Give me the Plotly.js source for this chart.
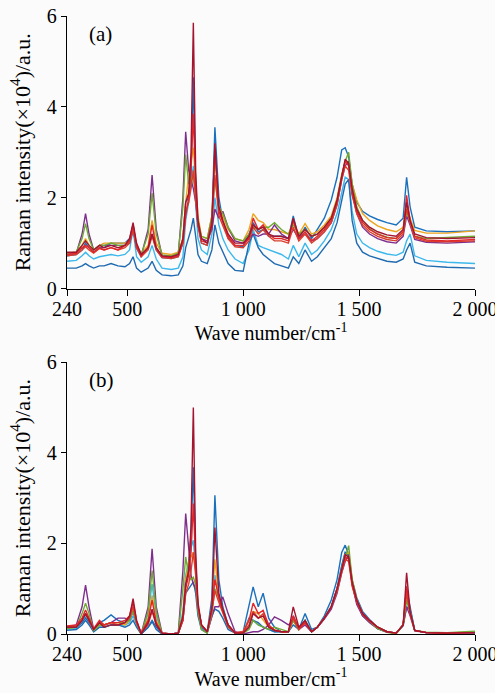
<!DOCTYPE html>
<html>
<head>
<meta charset="utf-8">
<script src="https://cdn.plot.ly/plotly-3.0.1.min.js"></script>
<style>html,body{margin:0;padding:0;background:#fbfbfb;overflow:hidden;}#chart{width:495px;height:693px;}</style>
</head>
<body>
<div id="chart"></div>
<script>
// Wave numbers (cm^-1)
const waveNumbers = [240,280,305,320,335,355,380,400,430,460, 490,510,525,540,560,590,607,625,650,690, 720,740,752,765,775,785,795,805,820,845, 865,878,895,912,935,965,1000,1025,1043,1065, 1086,1110,1135,1165,1195,1216,1240,1267,1295,1320, 1350,1380,1405,1425,1440,1455,1470,1490,1515,1545, 1580,1620,1660,1690,1705,1720,1740,1790,1880,2000];

const tickValues = [240, 500, 1000, 1500, 2000];
const tickLabels = ["240", "500", "1 000", "1 500", "2 000"];
const yTickValues = [0, 2, 4, 6];

// Panel (a): raw spectra (×10^4)
const aLightBlue = [0.6,0.62,0.72,0.8,0.72,0.65,0.7,0.72,0.75,0.72, 0.75,0.85,1.3,0.7,0.58,0.7,0.95,0.65,0.45,0.42, 0.45,0.7,1.5,1.9,2.3,2.7,1.9,1.1,0.85,0.75, 1.2,2.0,1.4,1.1,0.85,0.65,0.55,0.85,1.3,0.95, 0.9,0.85,0.8,0.75,0.65,0.95,0.7,1.0,0.75,0.85, 1.05,1.3,1.65,2.1,2.45,2.4,1.7,1.2,1.0,0.9, 0.82,0.76,0.73,0.8,1.05,1.2,0.72,0.62,0.58,0.55];
const aBlueLow = [0.45,0.45,0.5,0.55,0.5,0.45,0.5,0.5,0.55,0.5, 0.48,0.55,0.7,0.45,0.36,0.45,0.6,0.4,0.3,0.28, 0.3,0.5,0.9,1.1,1.3,1.55,1.1,0.75,0.6,0.55, 0.85,1.4,1.0,0.8,0.55,0.4,0.38,1.0,1.2,0.9, 0.75,0.65,0.55,0.5,0.45,0.7,0.55,0.85,0.6,0.7, 0.9,1.1,1.45,1.9,2.3,2.4,1.5,1.0,0.8,0.72, 0.66,0.6,0.58,0.65,0.85,1.0,0.58,0.5,0.47,0.45];
const aBlue = [0.72,0.75,0.85,1.0,0.9,0.8,0.9,0.9,1.0,1.0, 1.0,1.1,1.4,0.9,0.7,0.9,1.2,0.85,0.68,0.66, 0.7,1.1,1.9,2.0,2.5,4.65,2.2,1.4,1.0,0.95, 1.5,3.55,2.0,1.5,1.1,0.95,0.92,1.2,1.45,1.25, 1.3,1.15,1.15,1.15,1.1,1.6,1.1,1.35,1.1,1.3, 1.55,1.95,2.45,3.05,3.1,2.9,2.3,1.9,1.7,1.6, 1.52,1.45,1.4,1.55,2.45,1.8,1.35,1.27,1.25,1.27];
const aOrange = [0.78,0.8,0.95,1.1,0.95,0.85,0.95,1.0,1.0,1.0, 1.0,1.05,1.35,0.95,0.78,0.95,1.5,1.0,0.78,0.75, 0.8,1.1,1.9,2.5,2.8,3.1,2.3,1.6,1.15,1.1, 1.6,2.9,1.8,1.6,1.3,1.1,1.05,1.3,1.65,1.5, 1.45,1.3,1.3,1.25,1.2,1.45,1.2,1.43,1.2,1.25, 1.4,1.6,2.0,2.5,2.8,2.8,2.3,1.95,1.65,1.5, 1.38,1.3,1.25,1.35,1.8,1.55,1.28,1.22,1.22,1.27];
const aPurple = [0.75,0.78,1.2,1.65,1.2,0.85,0.95,0.95,0.95,0.95, 0.95,1.0,1.3,0.9,0.72,1.3,2.5,1.3,0.72,0.7, 0.75,2.0,3.45,2.6,2.4,2.2,1.9,1.4,1.1,1.05, 1.3,1.75,1.55,1.7,1.35,1.05,1.0,1.1,1.2,1.15, 1.2,1.2,1.4,1.2,1.1,1.3,1.1,1.2,1.05,1.1, 1.25,1.45,1.85,2.4,2.7,2.8,2.1,1.65,1.35,1.2, 1.1,1.03,1.0,1.15,1.6,1.4,1.08,1.02,1.0,1.03];
const aGreen = [0.78,0.8,1.1,1.43,1.1,0.85,0.95,0.95,1.0,0.95, 0.95,1.05,1.35,0.92,0.74,1.2,2.1,1.2,0.74,0.72, 0.78,1.8,2.95,2.3,2.4,2.5,2.0,1.5,1.15,1.1, 1.6,2.4,1.8,1.65,1.35,1.1,1.05,1.2,1.35,1.3, 1.35,1.35,1.45,1.3,1.2,1.4,1.2,1.3,1.15,1.2, 1.35,1.55,1.95,2.5,2.8,3.0,2.3,1.8,1.5,1.32, 1.2,1.13,1.1,1.25,1.7,1.45,1.15,1.1,1.12,1.15];
const aRed2 = [0.72,0.75,0.85,0.92,0.85,0.78,0.88,0.85,0.9,0.85, 0.9,1.0,1.3,0.9,0.7,0.85,1.15,0.85,0.68,0.66, 0.7,1.0,1.7,1.9,2.2,2.6,2.0,1.4,1.0,0.95, 1.4,2.5,1.6,1.4,1.1,0.92,0.9,1.05,1.35,1.2, 1.3,1.15,1.05,1.05,1.0,1.35,1.05,1.2,1.0,1.1, 1.25,1.45,1.85,2.4,2.7,2.6,2.05,1.65,1.4,1.25, 1.15,1.08,1.05,1.2,1.75,1.45,1.12,1.04,1.03,1.05];
const aRed = [0.75,0.78,0.9,0.95,0.9,0.8,0.9,0.85,0.9,0.85, 0.95,1.05,1.4,0.95,0.72,0.9,1.4,0.9,0.7,0.68, 0.72,1.0,1.6,2.0,2.6,3.85,2.2,1.4,1.05,1.0, 1.5,3.05,1.7,1.45,1.15,0.95,0.95,1.1,1.55,1.3, 1.4,1.2,1.1,1.1,1.05,1.5,1.1,1.25,1.05,1.15, 1.3,1.5,1.9,2.45,2.8,2.7,2.1,1.7,1.45,1.3, 1.2,1.12,1.1,1.25,2.05,1.5,1.15,1.07,1.05,1.08];
const aDarkRed = [0.8,0.8,0.95,1.05,0.95,0.85,0.95,0.9,0.95,0.9, 0.95,1.1,1.45,1.0,0.75,0.9,1.2,0.9,0.72,0.7, 0.75,1.1,1.9,2.1,3.0,5.85,2.6,1.5,1.1,1.0, 1.4,3.2,1.8,1.5,1.2,1.0,1.0,1.15,1.4,1.3, 1.35,1.2,1.15,1.15,1.1,1.55,1.15,1.3,1.15,1.2, 1.35,1.55,1.95,2.5,2.85,2.75,2.2,1.75,1.5,1.35, 1.25,1.18,1.15,1.3,1.9,1.5,1.2,1.12,1.1,1.12];

// Panel (b): baseline-corrected spectra (×10^4)
const bLightBlue = [0.1,0.12,0.25,0.4,0.25,0.05,0.15,0.15,0.2,0.2, 0.2,0.25,0.4,0.2,0.0,0.45,1.1,0.4,0.0,0.0, 0.02,0.5,1.3,1.6,1.9,2.07,1.4,0.5,0.15,0.03, 0.55,1.3,0.8,0.5,0.15,0.02,0.02,0.15,0.3,0.2, 0.15,0.1,0.05,0.05,0.05,0.3,0.1,0.25,0.05,0.15, 0.35,0.6,1.0,1.5,1.8,1.75,1.15,0.7,0.42,0.28, 0.12,0.05,0.02,0.2,0.8,0.5,0.08,0.03,0.02,0.03];
const bBlueLow = [0.08,0.1,0.2,0.3,0.2,0.05,0.15,0.15,0.2,0.2, 0.15,0.2,0.3,0.15,0.0,0.15,0.27,0.1,0.0,0.0, 0.02,0.3,0.9,1.0,1.1,1.15,0.9,0.4,0.1,0.02, 0.4,0.55,0.5,0.35,0.1,0.02,0.02,0.35,0.3,0.25, 0.15,0.1,0.05,0.05,0.05,0.2,0.1,0.3,0.05,0.15, 0.35,0.6,1.0,1.5,1.8,1.75,1.1,0.7,0.4,0.27, 0.12,0.05,0.02,0.18,0.6,0.55,0.08,0.03,0.02,0.03];
const bBlue = [0.15,0.15,0.25,0.35,0.25,0.1,0.25,0.3,0.42,0.3, 0.25,0.35,0.6,0.25,0.0,0.15,0.3,0.15,0.0,0.0, 0.02,0.35,1.2,1.5,2.2,3.68,1.6,0.6,0.15,0.05, 0.8,3.06,1.2,0.6,0.2,0.02,0.05,0.6,1.04,0.6, 0.9,0.35,0.15,0.05,0.05,0.4,0.1,0.45,0.1,0.15, 0.4,0.75,1.2,1.8,1.96,1.75,1.2,0.8,0.5,0.32, 0.15,0.05,0.02,0.2,1.0,0.6,0.08,0.03,0.02,0.02];
const bOrange = [0.12,0.15,0.3,0.45,0.3,0.08,0.2,0.2,0.25,0.25, 0.2,0.3,0.55,0.25,0.0,0.35,0.85,0.3,0.02,0.0, 0.02,0.4,1.2,1.6,1.7,1.8,1.4,0.6,0.2,0.05, 0.6,1.65,0.8,0.5,0.2,0.02,0.05,0.3,0.5,0.45, 0.3,0.15,0.1,0.05,0.05,0.3,0.1,0.25,0.05,0.15, 0.35,0.6,1.0,1.45,1.75,1.8,1.2,0.75,0.45,0.3, 0.15,0.05,0.02,0.2,0.9,0.5,0.08,0.03,0.02,0.05];
const bPurple = [0.15,0.2,0.6,1.08,0.6,0.1,0.25,0.2,0.25,0.35, 0.35,0.3,0.5,0.25,0.0,0.6,1.88,0.6,0.02,0.0, 0.02,1.4,2.66,1.8,1.3,1.1,1.0,0.6,0.2,0.05, 0.4,0.6,0.6,0.82,0.45,0.05,0.0,0.02,0.05,0.05, 0.1,0.2,0.38,0.3,0.2,0.3,0.1,0.2,0.05,0.15, 0.33,0.55,0.9,1.35,1.6,1.75,1.1,0.65,0.4,0.25, 0.12,0.04,0.02,0.2,0.6,0.4,0.07,0.03,0.02,0.03];
const bGreen = [0.12,0.15,0.45,0.68,0.45,0.08,0.2,0.2,0.25,0.25, 0.25,0.3,0.5,0.25,0.0,0.5,1.4,0.5,0.0,0.0, 0.0,1.0,1.7,1.3,1.2,1.25,1.1,0.5,0.1,0.02, 0.45,1.0,0.8,0.55,0.2,0.02,0.02,0.1,0.3,0.2, 0.15,0.1,0.15,0.1,0.05,0.3,0.1,0.3,0.05,0.15, 0.35,0.6,0.95,1.4,1.7,1.95,1.2,0.75,0.45,0.28, 0.12,0.04,0.0,0.2,0.75,0.45,0.08,0.04,0.03,0.06];
const bRed2 = [0.15,0.18,0.3,0.45,0.3,0.1,0.25,0.2,0.25,0.2, 0.25,0.35,0.6,0.25,0.02,0.2,0.5,0.2,0.02,0.0, 0.02,0.3,0.9,1.1,1.4,1.8,1.3,0.6,0.2,0.05, 0.5,0.95,0.7,0.45,0.15,0.02,0.03,0.2,0.5,0.35, 0.45,0.2,0.08,0.05,0.05,0.35,0.1,0.25,0.05,0.15, 0.35,0.6,0.95,1.35,1.65,1.6,1.05,0.7,0.43,0.28, 0.15,0.05,0.02,0.2,0.9,0.45,0.08,0.03,0.02,0.03];
const bRed = [0.18,0.2,0.35,0.53,0.35,0.12,0.3,0.2,0.25,0.25, 0.3,0.4,0.7,0.3,0.02,0.3,0.75,0.25,0.02,0.0, 0.02,0.3,1.0,1.3,1.8,2.88,1.5,0.6,0.2,0.05, 0.55,1.2,0.8,0.5,0.2,0.03,0.05,0.3,0.68,0.45, 0.52,0.2,0.08,0.05,0.05,0.4,0.12,0.25,0.05,0.15, 0.35,0.6,1.0,1.4,1.7,1.65,1.1,0.72,0.45,0.3, 0.15,0.05,0.02,0.2,1.05,0.45,0.08,0.03,0.02,0.03];
const bDarkRed = [0.15,0.15,0.3,0.45,0.3,0.1,0.25,0.15,0.2,0.2, 0.25,0.4,0.78,0.3,0.0,0.25,0.55,0.2,0.02,0.0, 0.02,0.4,1.1,1.4,2.4,5.0,1.8,0.7,0.2,0.05, 0.6,2.35,0.9,0.55,0.2,0.02,0.02,0.15,0.45,0.35, 0.4,0.15,0.08,0.05,0.05,0.6,0.15,0.3,0.05,0.15, 0.35,0.6,1.0,1.45,1.75,1.7,1.15,0.75,0.45,0.3, 0.15,0.05,0.02,0.2,1.35,0.5,0.08,0.03,0.02,0.03];

const seriesColors = {
  lightBlue: "#3cb8ec", blueLow: "#1f6ab0", blue: "#1a70bd", orange: "#eda41e",
  purple: "#7e2f8e", green: "#6fa832", red2: "#d8402c", red: "#e3262a", darkRed: "#a2142f"
};

const panelA = [
  ["lightBlue", aLightBlue], ["blueLow", aBlueLow], ["blue", aBlue], ["orange", aOrange],
  ["purple", aPurple], ["green", aGreen], ["red2", aRed2], ["red", aRed], ["darkRed", aDarkRed]
];
const panelB = [
  ["lightBlue", bLightBlue], ["blueLow", bBlueLow], ["blue", bBlue], ["orange", bOrange],
  ["purple", bPurple], ["green", bGreen], ["red2", bRed2], ["red", bRed], ["darkRed", bDarkRed]
];

const traces = [];
panelA.forEach(([name, ys]) => traces.push({
  x: waveNumbers, y: ys, type: "scatter", mode: "lines", name: name,
  line: {color: seriesColors[name], width: 1.4}, xaxis: "x", yaxis: "y", showlegend: false
}));
panelB.forEach(([name, ys]) => traces.push({
  x: waveNumbers, y: ys, type: "scatter", mode: "lines", name: name,
  line: {color: seriesColors[name], width: 1.4}, xaxis: "x2", yaxis: "y2", showlegend: false
}));

const fontFam = "Liberation Serif, Times New Roman, serif";
const xAxisBase = {
  range: [240, 2000], tickvals: tickValues, ticktext: tickLabels, ticklabeloverflow: "allow",
  ticklabelstandoff: -4,
  showline: true, linecolor: "#000", linewidth: 1.3, ticks: "outside", ticklen: 6, tickcolor: "#000",
  showgrid: false, zeroline: false, tickfont: {family: fontFam, size: 20, color: "#000"},
  title: {text: "Wave number/cm<sup>-1</sup>", font: {family: fontFam, size: 20, color: "#000"}, standoff: 6}
};
const yAxisBase = {
  range: [0, 6], tickvals: yTickValues,
  showline: true, linecolor: "#000", linewidth: 1.3, ticks: "outside", ticklen: 5, tickcolor: "#000",
  showgrid: false, zeroline: false, tickfont: {family: fontFam, size: 20, color: "#000"},
  title: {text: "Raman intensity(×10<sup>4</sup>)/a.u.", font: {family: fontFam, size: 22, color: "#000"}, standoff: 10}
};

const layout = {
  width: 495, height: 693,
  margin: {l: 67, r: 20, t: 16, b: 59},
  paper_bgcolor: "#fbfbfb", plot_bgcolor: "#fbfbfb",
  showlegend: false,
  xaxis: Object.assign({}, xAxisBase, {anchor: "y", domain: [0, 1]}),
  yaxis: Object.assign({}, yAxisBase, {anchor: "x", domain: [0.559, 1]}),
  xaxis2: Object.assign({}, xAxisBase, {anchor: "y2", domain: [0, 1]}),
  yaxis2: Object.assign({}, yAxisBase, {anchor: "x2", domain: [0, 0.44]}),
  annotations: [
    {text: "(a)", x: 325, y: 5.6, xref: "x", yref: "y", xanchor: "left", yanchor: "middle", showarrow: false,
     font: {family: fontFam, size: 21, color: "#000"}},
    {text: "(b)", x: 325, y: 5.6, xref: "x2", yref: "y2", xanchor: "left", yanchor: "middle", showarrow: false,
     font: {family: fontFam, size: 21, color: "#000"}}
  ]
};

Plotly.newPlot("chart", traces, layout, {staticPlot: true, displayModeBar: false});
</script>
</body>
</html>
